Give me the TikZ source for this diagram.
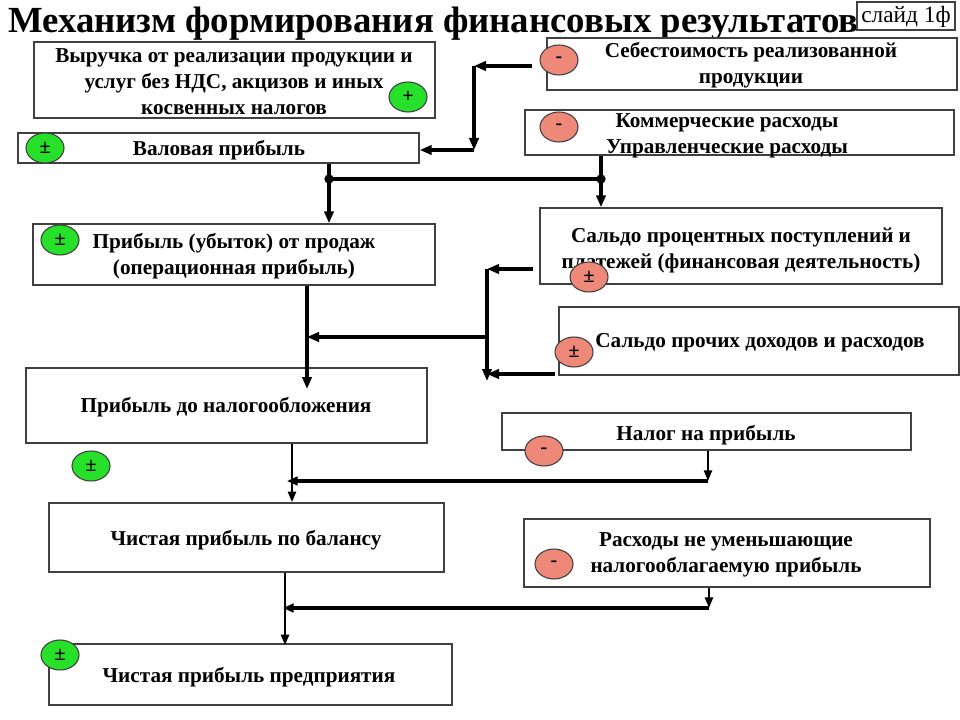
\documentclass[tikz,border=0pt]{standalone}
\usepackage{fontspec}
\setmainfont{Liberation Serif}
\usetikzlibrary{arrows.meta,shapes.geometric,fit,calc}
\definecolor{gr}{HTML}{26E02A}
\definecolor{rd}{HTML}{EE8878}
\begin{document}
\begin{tikzpicture}[x=0.75pt,y=-0.75pt,
  box/.style={draw=black!75, line width=1.1pt, fill=white, inner sep=0pt},
  txt/.style={font=\bfseries\fontsize{15.9}{19.5}\selectfont, align=center, inner sep=0pt},
  sgn/.style={ellipse, draw=black!75, line width=0.8pt, minimum width=28.5pt, minimum height=22.5pt, inner sep=0pt, font=\bfseries\fontsize{15}{15}\selectfont},
  plus/.style={sgn, fill=gr},
  minus/.style={sgn, fill=rd},
  link/.style={line width=2.6pt, -{Triangle[length=9pt,width=7pt]}},
  thin/.style={line width=1.9pt, -{Triangle[length=8pt,width=6pt]}},
  thick/.style={line width=3.4pt, -{Triangle[length=8pt,width=6.5pt]}},
  dot/.style={circle, fill=black, inner sep=0pt, minimum size=7pt}
]
\useasboundingbox (0,0) rectangle (960,720);
\fill[white] (0,0) rectangle (960,720);

% title
\node[anchor=base west, inner sep=0pt, font=\bfseries\fontsize{27.6}{30}\selectfont] (title) at (8,33) {Механизм формирования финансовых результатов};
\node[box, fit={(857,2) (955,30)}] (slide) {};
\node[inner sep=0pt, font=\fontsize{17.5}{18}\selectfont] (slidet) at (906,17) {слайд 1ф};

% boxes
\node[box, fit={(34,42) (435,118)}] (vyr) {};
\node[box, fit={(547,38) (957,90)}] (seb) {};
\node[box, fit={(525,110) (954,155)}] (kom) {};
\node[box, fit={(18,133) (419,163)}] (val) {};
\node[box, fit={(33,224) (435,285)}] (prod) {};
\node[box, fit={(540,208) (942,284)}] (sfin) {};
\node[box, fit={(559,307) (959,375)}] (sproch) {};
\node[box, fit={(26,368) (427,443)}] (pdn) {};
\node[box, fit={(502,413) (911,450)}] (nal) {};
\node[box, fit={(49,503) (444,572)}] (chb) {};
\node[box, fit={(524,519) (930,587)}] (ras) {};
\node[box, fit={(49,644) (452,705)}] (chp) {};

% texts
\node[txt] (vyrt) at (234,82) {Выручка от реализации продукции и\\услуг без НДС, акцизов и иных\\косвенных налогов};
\node[txt] (sebt) at (751,65) {Себестоимость реализованной\\продукции};
\node[txt] (komt) at (727,136) {Коммерческие расходы\\Управленческие расходы};
\node[txt] (valt) at (219,150) {Валовая прибыль};
\node[txt] (prodt) at (234,256) {Прибыль (убыток) от продаж\\(операционная прибыль)};
\node[txt] (sfint) at (741,250) {Сальдо процентных поступлений и\\платежей (финансовая деятельность)};
\node[txt] (sprocht) at (760,343) {Сальдо прочих доходов и расходов};
\node[txt] (pdnt) at (226,407) {Прибыль до налогообложения};
\node[txt] (nalt) at (706,435) {Налог на прибыль};
\node[txt] (chbt) at (246,540) {Чистая прибыль по балансу};
\node[txt] (rast) at (726,555) {Расходы не уменьшающие\\налогооблагаемую прибыль};
\node[txt] (chpt) at (249,677) {Чистая прибыль предприятия};

% signs
\node[plus] (e1) at (408,97) {+};
\node[plus] (e2) at (45,148) {±};
\node[minus] (e3) at (559,60) {-};
\node[minus] (e4) at (559,127) {-};
\node[plus] (e5) at (60,240) {±};
\node[minus] (e6) at (589,277) {±};
\node[minus] (e7) at (574,352) {±};
\node[minus] (e8) at (544,451) {-};
\node[plus] (e9) at (91,466) {±};
\node[minus] (e10) at (554,564) {-};
\node[plus] (e11) at (60,655) {±};

% connectors: top
\coordinate (c1) at (532,66);
\coordinate (c2) at (474,66);
\coordinate (c3) at (474,150);
\draw[link] (c1) -- (c2);
\draw[link] (c2) -- (c3);
\draw[link] (c3) -- (val.east |- c3);

\coordinate (j1) at (329,179);
\coordinate (j2) at (601,179);
\draw[line width=2.6pt] (j1) -- (j2);
\draw[link] (val.south -| j1) -- (prod.north -| j1);
\draw[link] (kom.south -| j2) -- (sfin.north -| j2);
\node[dot] (d1) at (j1) {};
\node[dot] (d2) at (j2) {};

% middle
\coordinate (k1) at (533,269);
\coordinate (k2) at (487,269);
\coordinate (k3) at (487,381);
\coordinate (k4) at (555,374);
\coordinate (k5) at (487,337);
\coordinate (k6) at (307,337);
\coordinate (k7) at (307,389);
\draw[link] (k1) -- (k2);
\draw[link] (k2) -- (k3);
\draw[link] (k4) -- (k4 -| k2);
\draw[link] (k5) -- (k6);
\draw[link] (prod.south -| k6) -- (k7);

% lower
\coordinate (m1) at (708,481);
\coordinate (m2) at (287,481);
\coordinate (m3) at (292,481);
\draw[thin] (nal.south -| m1) -- (m1);
\draw[thick] (m1) -- (m2);
\draw[thin] (pdn.south -| m3) -- (chb.north -| m3);

\coordinate (n1) at (709,608);
\coordinate (n2) at (283,608);
\coordinate (n3) at (285,608);
\draw[thin] (ras.south -| n1) -- (n1);
\draw[thick] (n1) -- (n2);
\draw[thin] (chb.south -| n3) -- ($(chp.north -| n3)+(0,2)$);
\end{tikzpicture}
\end{document}
